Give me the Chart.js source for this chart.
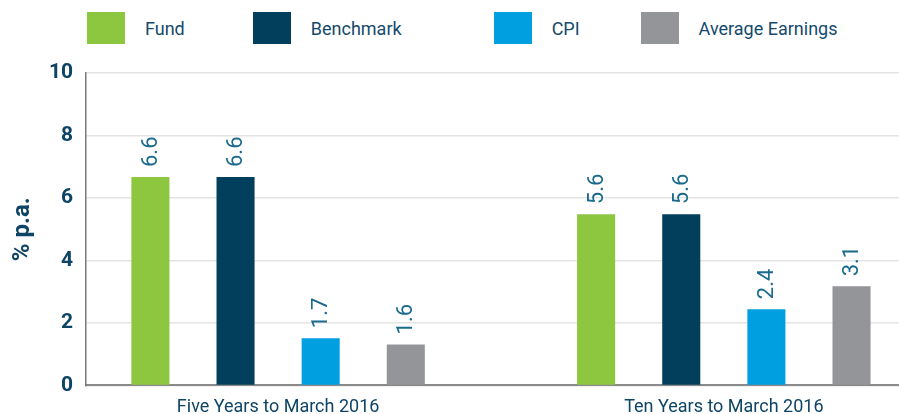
<!DOCTYPE html>
<html>
<head>
<meta charset="utf-8">
<script src="https://cdn.jsdelivr.net/npm/chart.js@4.4.1/dist/chart.umd.min.js"></script>
<style>
  html, body { margin: 0; padding: 0; background: #fff; }
  body { width: 899px; height: 414px; position: relative; overflow: hidden; font-family: Roboto, sans-serif; }
  #legend { position: absolute; top: 12px; left: 87px; display: flex; }
  .item { display: flex; align-items: center; gap: 20px; color: #154a6b; font-size: 18px; }
  .swatch { width: 38px; height: 32px; }
  #wrap { position: absolute; left: 0; top: 0; width: 899px; height: 429px; }
</style>
</head>
<body>
<div id="legend"></div>
<div id="wrap"><canvas id="chart"></canvas></div>
<script>
// categories and series values
const categories = ['Five Years to March 2016', 'Ten Years to March 2016'];
const seriesNames = ['Fund', 'Benchmark', 'CPI', 'Average Earnings'];
const fund = [6.67, 5.48];
const benchmark = [6.67, 5.48];
const cpi = [1.51, 2.44];
const earnings = [1.31, 3.17];
// value labels as printed above the bars
const fundLabels = ['6.6', '5.6'];
const benchmarkLabels = ['6.6', '5.6'];
const cpiLabels = ['1.7', '2.4'];
const earningsLabels = ['1.6', '3.1'];
const yTicks = [0, 2, 4, 6, 8, 10];

const colors = ['#8dc63f', '#023f5c', '#009fe0', '#939598'];
const navy = '#0e4465';
const legendGaps = [68, 92, 61, 0]; // spacing after each legend item

// html legend, like the original
const legendEl = document.getElementById('legend');
seriesNames.forEach((name, i) => {
  const item = document.createElement('div');
  item.className = 'item';
  item.style.marginRight = legendGaps[i] + 'px';
  item.innerHTML = '<div class="swatch" style="background:' + colors[i] + '"></div><span>' + name + '</span>';
  legendEl.appendChild(item);
});

const toPoints = (vals) => vals.map((v, i) => ({ x: i, y: v }));
const values = [fund, benchmark, cpi, earnings];
const labels = [fundLabels, benchmarkLabels, cpiLabels, earningsLabels];

// draws the rotated value labels above each bar
const barLabels = {
  id: 'barLabels',
  afterDatasetsDraw(chart) {
    const ctx = chart.ctx;
    ctx.save();
    ctx.font = '22px Roboto';
    ctx.fillStyle = '#1a6a8e';
    ctx.textAlign = 'left';
    ctx.textBaseline = 'middle';
    chart.data.datasets.forEach((ds, di) => {
      chart.getDatasetMeta(di).data.forEach((bar, i) => {
        ctx.save();
        ctx.translate(bar.x, bar.y - 10);
        ctx.rotate(-Math.PI / 2);
        ctx.fillText(labels[di][i], 0, 1);
        ctx.restore();
      });
    });
    ctx.restore();
  }
};

new Chart(document.getElementById('chart'), {
  type: 'bar',
  data: {
    datasets: seriesNames.map((name, i) => ({
      label: name,
      data: toPoints(values[i]),
      backgroundColor: colors[i],
      borderWidth: 0,
      categoryPercentage: 0.764,
      barPercentage: 0.447
    }))
  },
  options: {
    responsive: true,
    maintainAspectRatio: false,
    animation: false,
    layout: { padding: { top: 73, left: 9, right: 0, bottom: 0 } },
    plugins: {
      legend: { display: false },
      tooltip: { enabled: false }
    },
    scales: {
      x: {
        type: 'linear',
        offset: false,
        bounds: 'data',
        min: -0.431,
        max: 1.393,
        afterBuildTicks(scale) {
          scale.ticks = categories.map((_, i) => ({ value: i }));
        },
        grid: { display: false, drawTicks: false, offset: false },
        border: { display: true, color: '#8a8a8a', width: 2 },
        ticks: {
          autoSkip: false,
          maxRotation: 0,
          padding: 11,
          color: navy,
          font: { family: 'Roboto', size: 18 },
          callback: (v) => categories[v]
        }
      },
      y: {
        min: 0,
        max: 10,
        afterBuildTicks(scale) {
          scale.ticks = yTicks.map((v) => ({ value: v }));
        },
        afterFit(scale) { scale.width = 77; },
        grid: { color: '#e4e4e4', lineWidth: 1.5, drawTicks: false },
        border: { display: true, color: '#7a7a7a', width: 1.5 },
        ticks: {
          padding: 13,
          color: navy,
          font: { family: 'Roboto', size: 21, weight: 'bold' }
        },
        title: {
          display: true,
          text: '% p.a.',
          color: navy,
          padding: { top: 0, bottom: 0 },
          font: { family: 'Roboto', size: 24, weight: 'bold' }
        }
      }
    }
  },
  plugins: [barLabels]
});
</script>
</body>
</html>
